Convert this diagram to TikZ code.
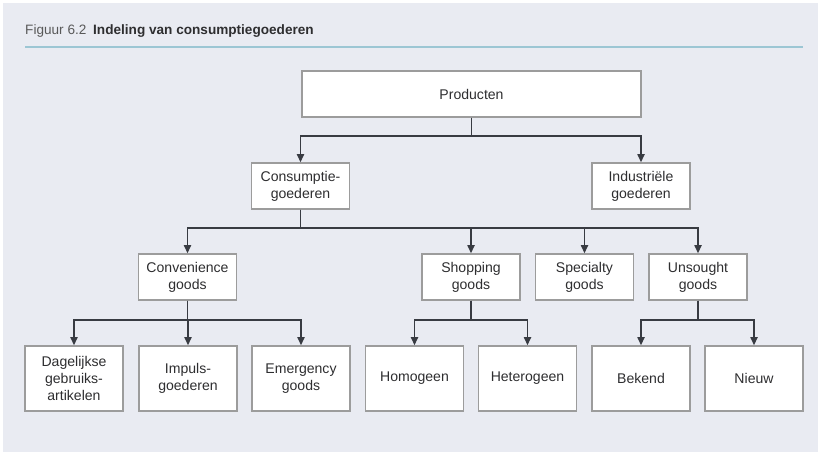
\documentclass[tikz,border=0pt]{standalone}
\usepackage{fontspec}
\setmainfont{Liberation Sans}
\usetikzlibrary{arrows.meta}

\definecolor{panel}{HTML}{E9EBF2}
\definecolor{rulecol}{HTML}{9CC6D4}
\definecolor{boxline}{HTML}{9C9C9C}
\definecolor{ink}{HTML}{383B42}
\definecolor{txt}{HTML}{2E2E30}

\begin{document}
\begin{tikzpicture}[x=0.03cm, y=-0.03cm,
	box/.style={draw=boxline, line width=1.1pt, fill=white, text=txt, align=center,
		minimum width=2.94cm, minimum height=1.38cm, inner sep=0pt,
		font=\fontsize{12}{14.5}\selectfont},
	tallbox/.style={box, minimum height=1.95cm},
	link/.style={draw=ink, line width=1.5pt, -{Triangle[length=7pt,width=6pt]}}]

	% background panel
	\fill[white] (0,0) rectangle (821,455);
	\fill[panel] (3,3) rectangle (818,452);

	% title and rule
	\node[anchor=base west, inner sep=0pt, font=\fontsize{11.6}{13}\selectfont] (title) at (25,35)
		{\textcolor{black!65}{Figuur 6.2}\hspace{0.5em}\textcolor{txt}{\textbf{Indeling van consumptiegoederen}}};
	\draw[rulecol, line width=1.6pt] (25,47) -- (803,47);

	% top
	\node[box, minimum width=10.17cm] (prod) at (471.5,94) {Producten};

	% second level
	\node[box] (cons) at (300.5,186) {Consumptie-\\goederen};
	\node[box] (ind)  at (641,186)   {Industriële\\goederen};

	% third level
	\node[box] (conv) at (187.5,277) {Convenience\\goods};
	\node[box] (shop) at (471,277)   {Shopping\\goods};
	\node[box] (spec) at (584.5,277) {Specialty\\goods};
	\node[box] (uns)  at (698,277)   {Unsought\\goods};

	% bottom level
	\node[tallbox] (dag) at (74,378.5)    {Dagelijkse\\gebruiks-\\artikelen};
	\node[tallbox] (imp) at (188,378.5)   {Impuls-\\goederen};
	\node[tallbox] (emg) at (301,378.5)   {Emergency\\goods};
	\node[tallbox] (hom) at (414.5,378.5) {Homogeen};
	\node[tallbox] (het) at (527.5,378.5) {Heterogeen};
	\node[tallbox] (bek) at (641,378.5)   {Bekend};
	\node[tallbox] (nie) at (754,378.5)   {Nieuw};

	% producten -> goederen
	\draw[link] (prod.south) -- ++(0,18) -| (cons.north);
	\draw[link] (prod.south) -- ++(0,18) -| (ind.north);

	% consumptiegoederen -> soorten
	\draw[link] (cons.south) -- ++(0,18) -| (conv.north);
	\draw[link] (cons.south) -- ++(0,18) -| (shop.north);
	\draw[link] (cons.south) -- ++(0,18) -| (spec.north);
	\draw[link] (cons.south) -- ++(0,18) -| (uns.north);

	% convenience goods
	\draw[link] (conv.south) -- ++(0,19) -| (dag.north);
	\draw[link] (conv.south) -- ++(0,19) -| (imp.north);
	\draw[link] (conv.south) -- ++(0,19) -| (emg.north);

	% shopping goods
	\draw[link] (shop.south) -- ++(0,19) -| (hom.north);
	\draw[link] (shop.south) -- ++(0,19) -| (het.north);

	% unsought goods
	\draw[link] (uns.south) -- ++(0,19) -| (bek.north);
	\draw[link] (uns.south) -- ++(0,19) -| (nie.north);

\end{tikzpicture}
\end{document}
